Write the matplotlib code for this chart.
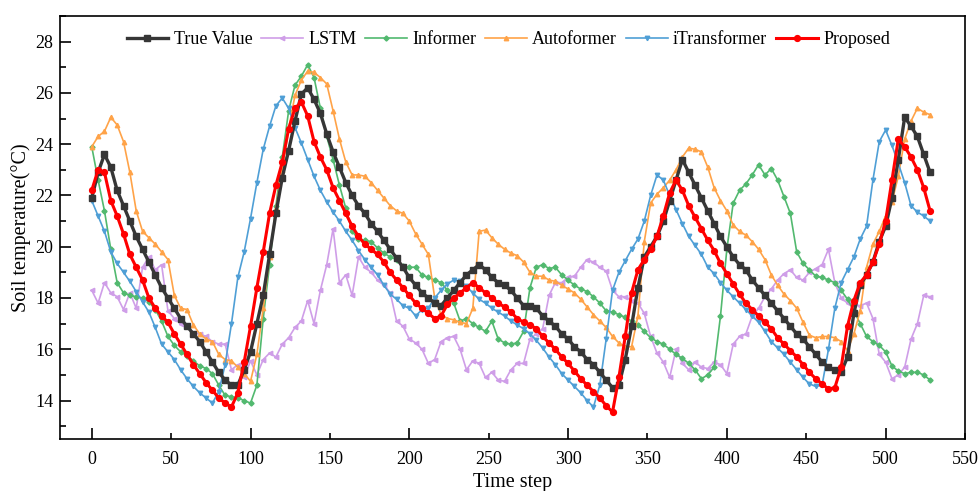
import numpy as np
import matplotlib
matplotlib.use("Agg")
import matplotlib.pyplot as plt
from matplotlib.ticker import MultipleLocator

plt.rcParams['font.family'] = ['Liberation Serif', 'DejaVu Serif']

# sampling interval of the stored series (time steps)
STEP = 4

true_value = [
    21.9, 22.9, 23.6, 23.1, 22.2, 21.6, 21.0, 20.4, 19.9, 19.4,
    18.9, 18.4, 18.0, 17.6, 17.2, 16.9, 16.6, 16.3, 15.9, 15.5,
    15.1, 14.8, 14.6, 14.6, 15.2, 15.9, 17.0, 18.1, 19.7, 21.3,
    22.7, 23.75, 24.9, 25.95, 26.2, 25.75, 25.2, 24.4, 23.7, 23.1,
    22.5, 22.0, 21.6, 21.3, 20.9, 20.6, 20.25, 19.9, 19.55, 19.2,
    18.8, 18.5, 18.2, 18.0, 17.8, 17.7, 18.0, 18.3, 18.6, 18.9,
    19.1, 19.3, 19.1, 18.8, 18.6, 18.5, 18.3, 18.0, 17.7, 17.7,
    17.6, 17.3, 17.1, 16.9, 16.6, 16.4, 16.1, 15.9, 15.6, 15.4,
    15.1, 14.8, 14.5, 14.6, 15.6, 16.9, 18.4, 19.6, 20.0, 20.4,
    21.0, 21.8, 22.6, 23.4, 22.9, 22.4, 21.9, 21.4, 20.9, 20.4,
    20.0, 19.6, 19.3, 19.1, 18.7, 18.4, 18.1, 17.8, 17.5, 17.2,
    16.9, 16.6, 16.4, 16.1, 15.8, 15.5, 15.3, 15.2, 15.1, 15.7,
    17.4, 18.5, 18.9, 19.4, 20.2, 20.8, 21.9, 23.4, 25.05, 24.7,
    24.3, 23.6, 22.9,
]

lstm = [
    18.3, 17.8, 18.6, 18.2, 18.05, 17.55, 18.2, 17.6, 19.2, 19.6,
    19.1, 19.3, 17.5, 17.2, 17.0, 16.85, 16.65, 16.6, 16.5, 16.3,
    16.2, 16.2, 15.2, 15.4, 14.9, 15.55, 15.0, 15.6, 15.85, 15.7,
    16.2, 16.45, 16.85, 17.1, 17.9, 17.0, 18.3, 19.3, 20.7, 18.6,
    18.9, 18.1, 19.6, 19.2, 19.0, 18.7, 18.5, 18.2, 17.1, 16.9,
    16.4, 16.25, 16.0, 15.45, 15.6, 16.3, 16.45, 16.5, 16.0, 15.2,
    15.55, 15.45, 14.9, 15.1, 14.8, 14.75, 15.2, 15.45, 15.45, 16.4,
    16.6, 16.8, 18.1, 18.6, 18.6, 18.8, 18.85, 19.2, 19.5, 19.4,
    19.2, 19.05, 18.3, 18.05, 18.05, 17.9, 17.8, 17.4, 16.5, 15.85,
    15.5, 14.9, 16.0, 15.45, 15.2, 15.5, 15.3, 15.25, 15.5, 15.4,
    15.05, 16.2, 16.5, 16.6, 17.3, 17.6, 18.05, 18.35, 18.7, 18.95,
    19.1, 18.8, 18.7, 19.0, 19.15, 19.3, 19.9, 18.6, 18.0, 17.8,
    17.75, 17.7, 17.8, 17.2, 15.8, 15.5, 14.85, 15.0, 15.3, 16.4,
    17.0, 18.1, 18.05,
]

informer = [
    23.9, 22.6, 21.4, 19.9, 18.6, 18.2, 18.1, 18.05, 18.0, 17.85,
    17.55, 17.1, 16.5, 16.15, 15.9, 15.75, 15.55, 15.35, 15.25, 15.05,
    14.6, 14.2, 14.15, 14.1, 14.0, 13.9, 14.6, 17.2, 19.3, 21.6,
    23.5, 25.3, 26.3, 26.65, 27.1, 26.6, 25.4, 24.3, 23.4, 22.4,
    21.5, 20.6, 20.3, 20.25, 20.2, 19.95, 19.75, 19.6, 19.5, 19.25,
    19.2, 19.2, 18.9, 18.8, 18.7, 18.6, 18.3, 17.8, 17.1, 17.2,
    17.0, 16.85, 16.7, 17.1, 16.4, 16.25, 16.2, 16.25, 16.7, 18.4,
    19.2, 19.3, 19.15, 19.2, 18.9, 18.7, 18.5, 18.35, 18.25, 18.05,
    17.8, 17.5, 17.45, 17.35, 17.25, 17.1, 16.95, 16.7, 16.45, 16.3,
    16.2, 16.0, 15.8, 15.65, 15.45, 15.2, 14.85, 15.0, 15.3, 17.3,
    19.9, 21.7, 22.2, 22.45, 22.8, 23.2, 22.8, 23.05, 22.6, 21.95,
    21.3, 19.8, 19.35, 19.1, 18.85, 18.8, 18.7, 18.6, 18.3, 17.95,
    17.5, 17.0, 16.5, 16.3, 16.15, 15.9, 15.35, 15.15, 15.05, 15.1,
    15.1, 15.0, 14.8,
]

autoformer = [
    23.9, 24.3, 24.5, 25.05, 24.75, 24.1, 22.9, 21.4, 20.6, 20.35,
    20.1, 19.8, 19.5, 18.1, 17.6, 17.55, 16.95, 16.6, 16.4, 16.3,
    15.8, 15.6, 15.55, 15.3, 15.05, 14.75, 15.8, 17.6, 19.6, 21.5,
    23.0, 24.6, 25.9, 26.5, 26.85, 26.8, 26.6, 26.35, 25.3, 24.2,
    23.3, 22.8, 22.8, 22.75, 22.5, 22.2, 21.9, 21.6, 21.4, 21.3,
    21.0, 20.5, 20.1, 19.7, 18.0, 17.35, 17.2, 17.15, 17.05, 17.0,
    17.6, 20.6, 20.65, 20.35, 20.1, 19.9, 19.75, 19.65, 19.4, 19.0,
    18.85, 18.85, 18.7, 18.65, 18.5, 18.35, 18.2, 17.95, 17.65, 17.35,
    17.1, 16.85, 16.5, 16.25, 16.1, 16.1, 17.3, 20.2, 21.7, 22.05,
    22.3, 22.6, 23.0, 23.5, 23.85, 23.8, 23.7, 23.1, 22.3, 21.8,
    21.4, 20.85, 20.6, 20.45, 20.2, 19.9, 19.5, 18.9, 18.5, 18.15,
    17.9, 17.6, 17.05, 16.55, 16.45, 16.5, 16.5, 16.45, 16.3, 15.95,
    16.6, 17.5, 19.2, 20.1, 20.6, 21.2, 21.75, 22.75, 24.2, 24.9,
    25.4, 25.25, 25.15,
]

itransformer = [
    21.8, 21.2, 20.6, 19.8, 19.35, 19.0, 18.65, 18.25, 17.85, 17.45,
    16.85, 16.2, 15.9, 15.6, 15.2, 14.85, 14.55, 14.3, 14.1, 13.9,
    14.35, 15.4, 17.0, 18.8, 19.8, 21.1, 22.5, 23.8, 24.7, 25.5,
    25.8, 25.4, 24.65, 24.05, 23.4, 22.75, 22.2, 21.75, 21.35, 21.0,
    20.6, 20.25, 19.85, 19.5, 19.2, 18.9, 18.5, 18.15, 17.95, 17.7,
    17.6, 17.3, 17.55, 17.6, 18.0, 18.3, 18.55, 18.7, 18.65, 18.45,
    18.2, 17.95, 17.8, 17.6, 17.45, 17.3, 17.1, 16.95, 16.8, 16.6,
    16.35, 16.05, 15.7, 15.4, 15.05, 14.8, 14.55, 14.3, 14.0, 13.75,
    14.6, 16.4, 18.3, 19.0, 19.45, 19.9, 20.3, 21.0, 22.0, 22.8,
    22.6, 22.0, 21.45, 20.9, 20.4, 20.05, 19.7, 19.2, 18.95, 18.6,
    18.3, 18.05, 17.8, 17.55, 17.3, 17.05, 16.7, 16.3, 16.05, 15.8,
    15.5, 15.2, 14.9, 14.65, 14.55, 14.6, 16.0, 17.6, 18.6, 19.1,
    19.6, 20.3, 20.8, 22.6, 24.1, 24.55, 23.95, 23.25, 22.5, 21.6,
    21.35, 21.2, 21.0,
]

proposed = [
    22.2, 23.0, 22.9, 21.8, 21.2, 20.5, 19.7, 19.2, 18.7, 18.0,
    17.6, 17.3, 17.05, 16.6, 16.2, 15.8, 15.4, 15.05, 14.7, 14.4,
    14.1, 13.9, 13.75, 14.3, 15.5, 16.9, 18.4, 19.8, 21.3, 22.4,
    23.3, 24.6, 25.4, 25.65, 25.1, 24.1, 23.5, 23.0, 22.3, 21.8,
    21.3, 20.8, 20.4, 20.1, 19.9, 19.7, 19.4, 19.0, 18.7, 18.4,
    18.1, 17.8, 17.6, 17.4, 17.2, 17.3, 17.75, 18.0, 18.2, 18.4,
    18.6, 18.4, 18.2, 18.0, 17.8, 17.65, 17.45, 17.2, 17.05, 16.95,
    16.8, 16.5, 16.25, 16.0, 15.7, 15.45, 15.15, 14.85, 14.6, 14.35,
    14.1, 13.8, 13.55, 14.9, 16.5, 18.2, 19.1, 19.5, 19.9, 20.4,
    21.2, 22.1, 22.6, 22.2, 21.6, 21.15, 20.7, 20.25, 19.85, 19.35,
    18.95, 18.55, 18.15, 17.8, 17.55, 17.3, 17.05, 16.8, 16.45, 16.2,
    15.95, 15.7, 15.4, 15.1, 14.85, 14.65, 14.45, 14.5, 15.3, 16.9,
    17.9, 18.6, 18.9, 19.4, 20.1, 21.0, 22.6, 24.2, 23.9, 23.5,
    23.0, 22.3, 21.4,
]

series = [
    ("True Value", true_value, dict(color="#363636", marker="s", ms=4.2, lw=2.4, zorder=5)),
    ("LSTM", lstm, dict(color="#cf9ee8", marker="<", ms=3.2, lw=1.2, zorder=3)),
    ("Informer", informer, dict(color="#52b96f", marker="D", ms=2.6, lw=1.2, zorder=3)),
    ("Autoformer", autoformer, dict(color="#ffa348", marker="^", ms=3.2, lw=1.2, zorder=3)),
    ("iTransformer", itransformer, dict(color="#4f9fd6", marker="v", ms=3.2, lw=1.2, zorder=3)),
    ("Proposed", proposed, dict(color="#ff0000", marker="o", ms=4.2, lw=2.2, zorder=6)),
]

fig = plt.figure(figsize=(9.79, 4.91), dpi=100)
ax = fig.add_axes([60 / 979, 1 - 439 / 491, (965 - 60) / 979, (439 - 16) / 491])

for label, values, style in series:
    steps = np.arange(len(values)) * STEP
    ax.plot(steps, values, label=label, **style)

ax.set_xlim(-20, 550)
ax.set_ylim(12.5, 29)

# long ticks every 100, short labelled ticks in between
ax.set_xticks(np.arange(0, 501, 100))
ax.set_xticks(np.arange(50, 551, 100), labels=[str(v) for v in range(50, 551, 100)], minor=True)
ax.set_yticks(np.arange(14, 29, 2))
ax.yaxis.set_minor_locator(MultipleLocator(1))

ax.tick_params(which="major", direction="in", length=8, width=1.2, labelsize=13)
ax.tick_params(which="minor", direction="in", length=4, width=1.2, labelsize=13)
ax.tick_params(axis="x", which="both", pad=9)
ax.tick_params(axis="y", which="both", pad=5)
ax.tick_params(top=False, right=False)
for sp in ax.spines.values():
    sp.set_linewidth(1.2)

ax.set_xlabel("Time step", fontsize=14.5, labelpad=3)
ax.set_ylabel("Soil temperature(\u00b0C)", fontsize=14.5, labelpad=3)

ax.legend(loc="center", bbox_to_anchor=(0.4955, (439 - 40) / 423), ncol=6, frameon=False,
          fontsize=13, handlelength=2.3, handletextpad=0.3, columnspacing=0.5)

fig.savefig("out.png", dpi=100)
